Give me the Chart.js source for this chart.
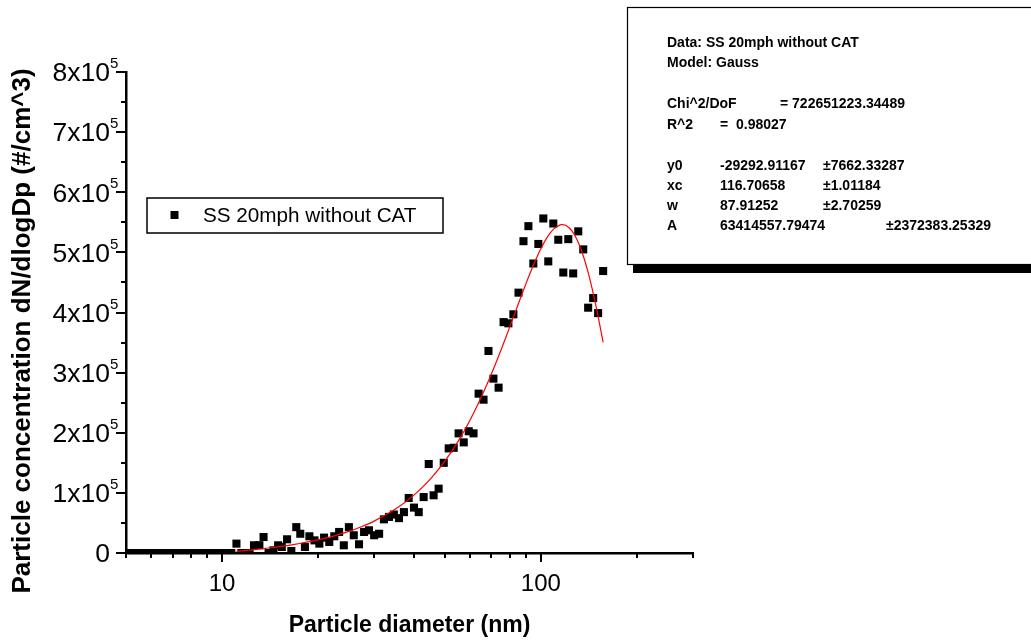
<!DOCTYPE html>
<html>
<head>
<meta charset="utf-8">
<script src="https://cdn.jsdelivr.net/npm/chart.js@4.4.1/dist/chart.umd.min.js"></script>
<style>
  html, body { margin: 0; padding: 0; background: #fff; }
  #wrap { width: 1031px; height: 644px; }
</style>
</head>
<body>
<div id="wrap"><canvas id="myChart" width="1031" height="644"></canvas></div>
<script>
// SMPS channel midpoints (nm) and measured dN/dlogDp
const diameters = [
  5.05, 5.23, 5.42, 5.62, 5.83, 6.04, 6.26, 6.49, 6.73, 6.98, 7.23, 7.5, 7.77, 8.06, 8.35, 8.66,
  8.98, 9.31, 9.65, 10.0, 10.4, 10.7, 11.1, 11.5, 11.9, 12.2, 12.6, 13.1, 13.5, 14.0, 14.5, 15.0,
  15.4, 16.0, 16.5, 17.1, 17.6, 18.2, 18.8, 19.5, 20.2, 20.9, 21.7, 22.5, 23.3, 24.1, 25.0, 25.9,
  26.9, 27.9, 28.9, 30.0, 31.1, 32.2, 33.4, 34.6, 35.9, 37.2, 38.5, 40.0, 41.4, 42.9, 44.5, 46.1,
  47.8, 49.6, 51.4, 53.3, 55.2, 57.3, 59.4, 61.5, 63.8, 66.1, 68.5, 71.0, 73.7, 76.4, 79.1, 82.0,
  85.1, 88.2, 91.4, 94.7, 98.2, 101.8, 105.5, 109.4, 113.4, 117.6, 121.9, 126.3, 131.0, 135.8,
  140.7, 145.9, 151.2, 156.8
];
const concentrations = [
  0, 0, 0, 0, 0, 0, 0, 0, 0, 0, 0, 0, 0, 0, 0, 0,
  0, 0, 0, 0, 0, 0, 15600, 0, 0, 0, 12800, 13000, 26600, 0, 4500, 12800,
  10000, 22800, 3300, 43000, 32000, 10000, 27800, 21000, 15600, 25600, 18300, 27800, 35000, 12800, 43000, 29500,
  14500, 35000, 37800, 29500, 32000, 56000, 60000, 64000, 58000, 68000, 91500, 75500, 68000, 93000, 148000, 96000,
  107000, 150000, 174000, 175000, 199000, 184000, 202500, 199000, 265000, 255000, 336000, 290000, 275000, 384000, 382000, 397000,
  433000, 518600, 543600, 481500, 514000, 556400, 485000, 548000, 521000, 466500, 522000, 465000, 535000, 505000,
  408000, 424000, 399000, 469000
];

// Gauss fit curve
const fitDiameters = [
  11.1, 12, 13, 14, 15, 16, 17.5, 19, 20, 22.5, 25, 27.5, 30, 35, 40, 45, 50, 55, 60, 65,
  70, 75, 80, 85, 90, 95, 100, 105, 110, 115, 117, 120, 125, 130, 135, 140, 145, 150, 156.8
];
const fitValues = [
  2800, 4400, 6300, 8300, 10300, 12400, 15800, 19400, 21900, 28600, 36000, 44100, 53000, 73000, 96300, 122900, 152700, 185600, 221200, 258900,
  298000, 337700, 376900, 414500, 449300, 480200, 506200, 526200, 539600, 545800, 546300, 544600, 536100, 520500, 498500, 470800, 438500, 402700, 350500
];

const xTickValues = [5, 6, 7, 8, 9, 10, 20, 30, 40, 50, 60, 70, 80, 90, 100, 200, 300];
const xTickLabels = ['', '', '', '', '', '10', '', '', '', '', '', '', '', '', '100', '', ''];
const yTickValues = [0, 50000, 100000, 150000, 200000, 250000, 300000, 350000, 400000, 450000, 500000, 550000, 600000, 650000, 700000, 750000, 800000];
const yTickLabels = ['0', '', '1x10', '', '2x10', '', '3x10', '', '4x10', '', '5x10', '', '6x10', '', '7x10', '', '8x10'];
const yTickExponent = '5';

const xTitle = 'Particle diameter (nm)';
const yTitle = 'Particle concentration dN/dlogDp (#/cm^3)';
const seriesName = 'SS 20mph without CAT';
const fitInfo = ['Data: SS 20mph without CAT', 'Model: Gauss'];
const fitStats = [['Chi^2/DoF', '= 722651223.34489'], ['R^2', '=  0.98027']];
const fitParams = [
  ['y0', '-29292.91167', '\u00b17662.33287'],
  ['xc', '116.70658', '\u00b11.01184'],
  ['w', '87.91252', '\u00b12.70259'],
  ['A', '63414557.79474', '\u00b12372383.25329']
];

const FONT = '"Liberation Sans", Arial, sans-serif';

const overlayPlugin = {
  id: 'overlay',
  afterDraw(chart) {
    const ctx = chart.ctx;
    const xs = chart.scales.x;
    const ys = chart.scales.y;
    const area = chart.chartArea;
    ctx.save();
    ctx.strokeStyle = '#000';
    ctx.lineWidth = 2;

    // tick marks
    xTickValues.forEach((v, i) => {
      const px = Math.round(xs.getPixelForValue(v));
      const len = xTickLabels[i] ? 9 : 5;
      ctx.beginPath();
      ctx.moveTo(px, area.bottom);
      ctx.lineTo(px, area.bottom + len);
      ctx.stroke();
    });
    yTickValues.forEach((v, i) => {
      const py = Math.round(ys.getPixelForValue(v));
      const len = yTickLabels[i] ? 10 : 5;
      ctx.beginPath();
      ctx.moveTo(area.left - len, py);
      ctx.lineTo(area.left, py);
      ctx.stroke();
    });

    // y tick labels with superscript
    ctx.fillStyle = '#000';
    yTickValues.forEach((v, i) => {
      if (!yTickLabels[i]) return;
      const py = ys.getPixelForValue(v);
      ctx.font = `26.5px ${FONT}`;
      ctx.textAlign = 'right';
      ctx.textBaseline = 'middle';
      ctx.fillText(yTickLabels[i], 110, py + 2);
      if (v !== 0) {
        ctx.font = `15px ${FONT}`;
        ctx.textAlign = 'left';
        ctx.fillText(yTickExponent, 110, py - 8);
      }
    });

    // y axis title
    ctx.save();
    ctx.translate(23, 331);
    ctx.rotate(-Math.PI / 2);
    ctx.font = `bold 26px ${FONT}`;
    ctx.textAlign = 'center';
    ctx.textBaseline = 'middle';
    ctx.fillText(yTitle, 0, 0);
    ctx.restore();

    // legend
    ctx.lineWidth = 1.5;
    ctx.fillStyle = '#fff';
    ctx.fillRect(147, 198, 296, 35);
    ctx.strokeRect(147, 198, 296, 35);
    ctx.fillStyle = '#000';
    ctx.fillRect(170.5, 211, 8, 8);
    ctx.font = `20.7px ${FONT}`;
    ctx.textAlign = 'left';
    ctx.textBaseline = 'middle';
    ctx.fillText(seriesName, 203, 216);

    // fit result box with shadow
    ctx.fillStyle = '#000';
    ctx.fillRect(633, 15, 400, 258);
    ctx.fillStyle = '#fff';
    ctx.fillRect(627.5, 7.5, 410, 257);
    ctx.lineWidth = 1.2;
    ctx.strokeRect(627.5, 7.5, 410, 257);
    ctx.fillStyle = '#000';
    ctx.font = `bold 14px ${FONT}`;
    ctx.textBaseline = 'middle';
    ctx.fillText(fitInfo[0], 667, 43);
    ctx.fillText(fitInfo[1], 667, 63);
    ctx.fillText(fitStats[0][0], 667, 104);
    ctx.fillText(fitStats[0][1], 780, 104);
    ctx.fillText(fitStats[1][0], 667, 125);
    ctx.fillText(fitStats[1][1], 720, 125);
    fitParams.forEach((row, i) => {
      const y = 166 + i * 20;
      ctx.fillText(row[0], 667, y);
      ctx.fillText(row[1], 720, y);
      ctx.fillText(row[2], row[0] === 'A' ? 886 : 823, y);
    });
    ctx.restore();
  }
};

const ctx = document.getElementById('myChart').getContext('2d');
const sizeChart = new Chart(ctx, {
  type: 'scatter',
  data: {
    datasets: [
      {
        label: 'Gauss fit',
        data: fitDiameters.map((d, i) => ({ x: d, y: fitValues[i] })),
        showLine: true,
        borderColor: '#ff0000',
        borderWidth: 1.2,
        pointRadius: 0,
        tension: 0.2,
        fill: false,
      },
      {
        label: seriesName,
        data: diameters.map((d, i) => ({ x: d, y: concentrations[i] })),
        pointStyle: 'rect',
        pointRadius: 5.7,
        pointBackgroundColor: '#000',
        pointBorderWidth: 0,
        clip: { left: 0, top: 10, right: 10, bottom: 0 },
      },
    ],
  },
  options: {
    responsive: false,
    animation: false,
    devicePixelRatio: 1,
    layout: { padding: { left: 0, top: 72, right: 338, bottom: 0 } },
    plugins: {
      legend: { display: false },
      tooltip: { enabled: false },
    },
    scales: {
      x: {
        type: 'logarithmic',
        position: 'bottom',
        min: 5,
        max: 300,
        afterBuildTicks: (scale) => {
          scale.ticks = xTickValues.map((v) => ({ value: v }));
        },
        afterFit: (scale) => {
          scale.height = 91;
        },
        grid: { display: false, drawTicks: false },
        border: { display: true, color: '#000', width: 2.5 },
        ticks: {
          autoSkip: false,
          maxRotation: 0,
          padding: 17,
          color: '#000',
          font: { family: FONT, size: 24 },
          callback: (value, index) => xTickLabels[index],
        },
        title: {
          display: true,
          text: xTitle,
          color: '#000',
          font: { family: FONT, size: 23, weight: 'bold' },
          padding: { top: 0, bottom: 5 },
        },
      },
      y: {
        type: 'linear',
        min: 0,
        max: 800000,
        afterBuildTicks: (scale) => {
          scale.ticks = yTickValues.map((v) => ({ value: v }));
        },
        afterFit: (scale) => {
          scale.width = 126;
        },
        grid: { display: false, drawTicks: false },
        border: { display: true, color: '#000', width: 2.5 },
        ticks: { display: false },
        title: { display: false },
      },
    },
  },
  plugins: [overlayPlugin],
});
</script>
</body>
</html>
